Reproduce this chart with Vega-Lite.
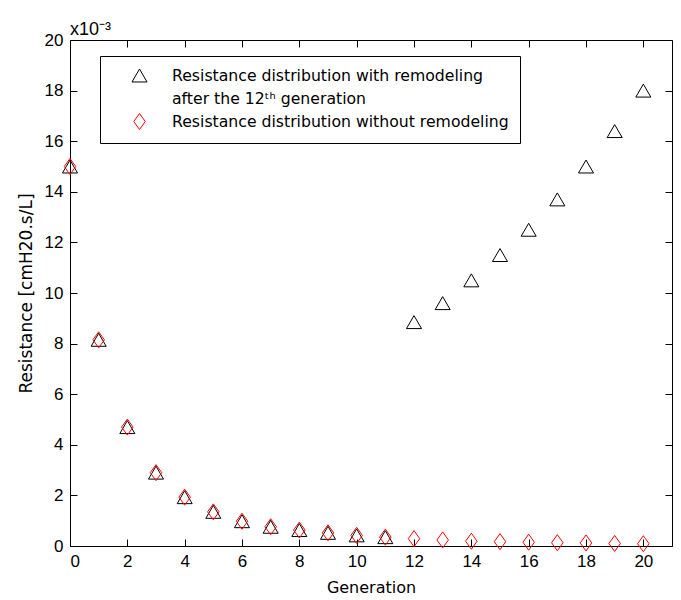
{
  "$schema": "https://vega.github.io/schema/vega-lite/v6.json",
  "autosize": "none",
  "width": 602,
  "height": 506,
  "padding": {"left": 70, "top": 40, "right": 9, "bottom": 54},
  "background": "white",
  "title": {"text": "x10⁻³", "anchor": "start", "frame": "group", "font": "Liberation Sans", "fontSize": 18, "fontWeight": "normal", "color": "black", "offset": -8},
  "config": {
    "view": {"stroke": "black", "strokeWidth": 1},
    "axis": {"grid": false, "domain": false, "tickColor": "black", "tickSize": -7, "labelColor": "black", "labelFont": "Liberation Sans", "labelFontSize": 17, "titleFont": "DejaVu Sans", "titleFontWeight": "normal", "titleColor": "black"},
    "style": {"guide-label": {"lineHeight": 23}}
  },
  "data": {"values": [
    {"generation": 0, "series": "with", "resistance": 0.0150},
    {"generation": 1, "series": "with", "resistance": 0.00815},
    {"generation": 2, "series": "with", "resistance": 0.0047},
    {"generation": 3, "series": "with", "resistance": 0.0029},
    {"generation": 4, "series": "with", "resistance": 0.00193},
    {"generation": 5, "series": "with", "resistance": 0.00135},
    {"generation": 6, "series": "with", "resistance": 0.00098},
    {"generation": 7, "series": "with", "resistance": 0.00076},
    {"generation": 8, "series": "with", "resistance": 0.00063},
    {"generation": 9, "series": "with", "resistance": 0.00052},
    {"generation": 10, "series": "with", "resistance": 0.00042},
    {"generation": 11, "series": "with", "resistance": 0.00035},
    {"generation": 12, "series": "with", "resistance": 0.00885},
    {"generation": 13, "series": "with", "resistance": 0.0096},
    {"generation": 14, "series": "with", "resistance": 0.0105},
    {"generation": 15, "series": "with", "resistance": 0.0115},
    {"generation": 16, "series": "with", "resistance": 0.0125},
    {"generation": 17, "series": "with", "resistance": 0.0137},
    {"generation": 18, "series": "with", "resistance": 0.0150},
    {"generation": 19, "series": "with", "resistance": 0.0164},
    {"generation": 20, "series": "with", "resistance": 0.0180},
    {"generation": 0, "series": "without", "resistance": 0.0150},
    {"generation": 1, "series": "without", "resistance": 0.00815},
    {"generation": 2, "series": "without", "resistance": 0.0047},
    {"generation": 3, "series": "without", "resistance": 0.0029},
    {"generation": 4, "series": "without", "resistance": 0.00193},
    {"generation": 5, "series": "without", "resistance": 0.00135},
    {"generation": 6, "series": "without", "resistance": 0.00098},
    {"generation": 7, "series": "without", "resistance": 0.00076},
    {"generation": 8, "series": "without", "resistance": 0.00063},
    {"generation": 9, "series": "without", "resistance": 0.00052},
    {"generation": 10, "series": "without", "resistance": 0.00042},
    {"generation": 11, "series": "without", "resistance": 0.00035},
    {"generation": 12, "series": "without", "resistance": 0.00029},
    {"generation": 13, "series": "without", "resistance": 0.00024},
    {"generation": 14, "series": "without", "resistance": 0.00019},
    {"generation": 15, "series": "without", "resistance": 0.00017},
    {"generation": 16, "series": "without", "resistance": 0.00015},
    {"generation": 17, "series": "without", "resistance": 0.00013},
    {"generation": 18, "series": "without", "resistance": 0.00012},
    {"generation": 19, "series": "without", "resistance": 0.0001},
    {"generation": 20, "series": "without", "resistance": 0.00009}
  ]},
  "resolve": {"axis": {"x": "independent", "y": "independent"}},
  "layer": [
    {
      "mark": {"type": "point", "filled": false, "strokeWidth": 1, "size": 256, "opacity": 1},
      "encoding": {
        "x": {"field": "generation", "type": "quantitative", "scale": {"domain": [0, 21], "nice": false, "zero": false},
              "axis": {"orient": "bottom", "values": [0, 2, 4, 6, 8, 10, 12, 14, 16, 18, 20], "title": "Generation", "titleFontSize": 16, "labelPadding": 14, "titlePadding": 10}},
        "y": {"field": "resistance", "type": "quantitative", "scale": {"domain": [0, 0.02], "nice": false},
              "axis": {"orient": "left", "values": [0, 0.002, 0.004, 0.006, 0.008, 0.01, 0.012, 0.014, 0.016, 0.018, 0.02], "labelExpr": "format(datum.value*1000, 'd')", "title": "Resistance [cmH20.s/L]", "titleFontSize": 17, "labelPadding": 14, "titlePadding": 9}},
        "color": {"field": "series", "type": "nominal",
                  "scale": {"domain": ["with", "without"], "range": ["#000000", "#ff0000"]},
                  "legend": {"orient": "none", "legendX": 30, "legendY": 16, "title": null, "strokeColor": "black", "fillColor": "white", "padding": 11, "symbolOffset": 20, "symbolSize": 256, "symbolStrokeWidth": 1, "symbolFillColor": "transparent", "labelFont": "DejaVu Sans", "labelFontSize": 15.7, "labelColor": "black", "labelLimit": 0, "labelOffset": 24, "rowPadding": 4,
                             "labelExpr": "datum.label == 'with' ? ['Resistance distribution with remodeling', 'after the 12ᵗʰ generation'] : 'Resistance distribution without remodeling'"}},
        "shape": {"field": "series", "type": "nominal",
                  "scale": {"domain": ["with", "without"], "range": ["M0,-0.81L0.94,0.81L-0.94,0.81Z", "M0,-1L0.72,0L0,1L-0.72,0Z"]}}
      }
    },
    {
      "mark": {"type": "point", "opacity": 0},
      "encoding": {
        "x": {"field": "generation", "type": "quantitative",
              "axis": {"orient": "top", "values": [0, 2, 4, 6, 8, 10, 12, 14, 16, 18, 20], "labels": false, "title": null}},
        "y": {"field": "resistance", "type": "quantitative",
              "axis": {"orient": "right", "values": [0, 0.002, 0.004, 0.006, 0.008, 0.01, 0.012, 0.014, 0.016, 0.018, 0.02], "labels": false, "title": null}}
      }
    }
  ]
}
